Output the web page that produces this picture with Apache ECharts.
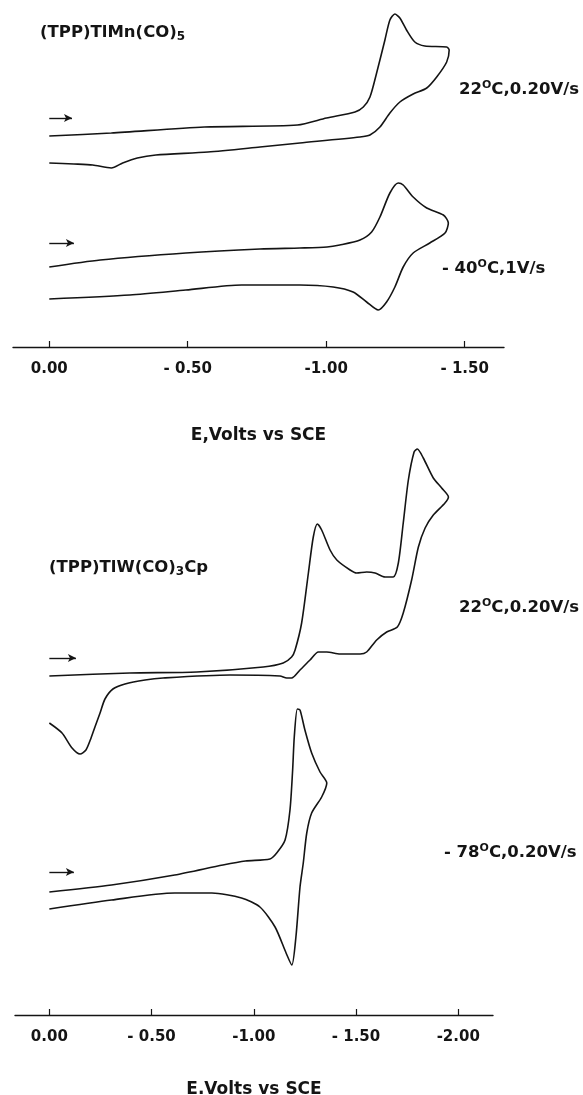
<!DOCTYPE html>
<html>
<head>
<meta charset="utf-8">
<script src="https://cdn.jsdelivr.net/npm/echarts@6/dist/echarts.min.js"></script>
<style>
  html, body { margin: 0; padding: 0; background: #fff; }
  #chart { width: 583px; height: 1095px; }
</style>
</head>
<body>
<div id="chart"></div>
<script>
// Cyclic voltammograms: [potential E (V vs SCE), current (arbitrary units, offset per trace)]

// (TPP)TlMn(CO)5, 22 °C, 0.20 V/s
const mn22 = [
  [0.000, 211], [-0.224, 214], [-0.560, 220], [-0.896, 222], [-1.001, 229], [-1.104, 235],
  [-1.134, 240], [-1.158, 250], [-1.182, 274], [-1.212, 307], [-1.230, 327], [-1.248, 333],
  [-1.266, 329], [-1.290, 317], [-1.320, 305], [-1.356, 301], [-1.435, 300], [-1.444, 297],
  [-1.435, 285], [-1.399, 270], [-1.363, 259], [-1.314, 253], [-1.266, 245], [-1.230, 234],
  [-1.194, 220], [-1.158, 212], [-1.122, 210], [-0.905, 204], [-0.761, 200], [-0.573, 195],
  [-0.385, 192], [-0.318, 189], [-0.265, 184], [-0.224, 179], [-0.157, 182], [-0.089, 183],
  [0.000, 184]
];

// (TPP)TlMn(CO)5, -40 °C, 1 V/s
const mnM40 = [
  [0.000, 80], [-0.184, 87], [-0.493, 94], [-0.761, 98], [-0.905, 99], [-1.003, 100],
  [-1.049, 102], [-1.122, 107], [-1.164, 115], [-1.194, 130], [-1.230, 154], [-1.260, 164],
  [-1.278, 162], [-1.314, 150], [-1.363, 139], [-1.423, 132], [-1.441, 124],
  [-1.429, 114], [-1.374, 104], [-1.314, 94], [-1.278, 80], [-1.248, 60], [-1.218, 45],
  [-1.188, 37], [-1.146, 45], [-1.097, 55], [-1.025, 60], [-0.905, 62], [-0.694, 62],
  [-0.493, 57], [-0.291, 52], [0.000, 48]
];

// (TPP)TlW(CO)3Cp, 22 °C, 0.20 V/s
const w22 = [
  [0.000, 339], [-0.394, 342], [-0.721, 343], [-1.046, 348], [-1.144, 352], [-1.185, 358],
  [-1.202, 365], [-1.234, 392], [-1.267, 442], [-1.291, 478], [-1.311, 491], [-1.332, 485],
  [-1.373, 465], [-1.406, 455], [-1.471, 445], [-1.503, 442], [-1.552, 443], [-1.593, 442],
  [-1.642, 438], [-1.682, 438], [-1.707, 452], [-1.731, 492], [-1.756, 535], [-1.784, 563],
  [-1.800, 566], [-1.829, 557], [-1.878, 537], [-1.919, 527], [-1.952, 518],
  [-1.935, 512], [-1.878, 500], [-1.838, 487], [-1.805, 468], [-1.772, 435], [-1.731, 402],
  [-1.702, 388], [-1.650, 383], [-1.601, 375], [-1.552, 363], [-1.520, 361], [-1.422, 361],
  [-1.357, 363], [-1.316, 363], [-1.275, 355], [-1.226, 345], [-1.185, 337], [-1.161, 337],
  [-1.128, 339], [-0.884, 340], [-0.556, 337], [-0.468, 335], [-0.370, 331], [-0.311, 326],
  [-0.272, 316], [-0.248, 302], [-0.223, 288], [-0.204, 277], [-0.179, 265], [-0.150, 261],
  [-0.111, 267], [-0.062, 282], [0.000, 292]
];

// (TPP)TlW(CO)3Cp, -78 °C, 0.20 V/s
const wM78 = [
  [0.000, 123], [-0.304, 130], [-0.613, 140], [-0.849, 150], [-0.959, 154], [-1.079, 156],
  [-1.112, 162], [-1.153, 175], [-1.177, 205], [-1.190, 245], [-1.198, 278], [-1.213, 306],
  [-1.226, 305], [-1.250, 285], [-1.283, 262], [-1.324, 243], [-1.357, 232],
  [-1.332, 218], [-1.283, 202], [-1.259, 182], [-1.242, 152], [-1.226, 128], [-1.206, 78],
  [-1.186, 50], [-1.158, 62], [-1.104, 88], [-1.030, 108], [-0.940, 117], [-0.795, 122],
  [-0.613, 122], [-0.304, 115], [0.000, 106]
];

// Scan-direction arrows: [start, end] points
const arrowMn22 = [[0.000, 229], [-0.082, 229]];
const arrowMnM40 = [[0.000, 104], [-0.089, 104]];
const arrowW22 = [[0.000, 357], [-0.130, 357]];
const arrowWM78 = [[0.000, 143], [-0.120, 143]];

// Axis ticks and their labels
const topTicks = [0, -0.5, -1.0, -1.5];
const topTickLabels = ['0.00', '- 0.50', '-1.00', '- 1.50'];
const bottomTicks = [0, -0.5, -1.0, -1.5, -2.0];
const bottomTickLabels = ['0.00', '- 0.50', '-1.00', '- 1.50', '-2.00'];

const INK = '#141414';
const FONT = '"DejaVu Sans", "Liberation Sans", Arial, sans-serif';

function labelFor(ticks, labels) {
  return function (v) {
    for (let k = 0; k < ticks.length; k++) {
      if (Math.abs(ticks[k] - v) < 1e-6) return labels[k];
    }
    return '';
  };
}

function xAxisFor(gridIndex, min, max, ticks, labels, nameText, gap) {
  return {
    type: 'value', gridIndex: gridIndex, inverse: true, min: min, max: max,
    splitLine: { show: false },
    axisLine: { show: true, onZero: false, lineStyle: { color: INK, width: 1.4 } },
    axisTick: { show: true, inside: true, length: 6, customValues: ticks, lineStyle: { color: INK, width: 1.2 } },
    axisLabel: {
      show: true, customValues: ticks, formatter: labelFor(ticks, labels), margin: 15,
      color: INK, fontFamily: FONT, fontWeight: 'bold', fontSize: 15
    },
    name: nameText, nameLocation: 'middle', nameGap: gap,
    nameTextStyle: { color: INK, fontFamily: FONT, fontWeight: 'bold', fontSize: 17 }
  };
}

function yAxisFor(gridIndex, max) {
  return { type: 'value', gridIndex: gridIndex, min: 0, max: max, show: false };
}

function trace(data, xi, arrow) {
  return {
    type: 'line', xAxisIndex: xi, yAxisIndex: xi, data: data,
    showSymbol: false, smooth: 0.25, clip: false,
    lineStyle: { color: INK, width: 1.6 },
    markLine: {
      silent: true, symbol: ['none', 'arrow'], symbolSize: [6, 8],
      label: { show: false },
      lineStyle: { color: INK, width: 1.4, type: 'solid' },
      data: [[{ coord: arrow[0] }, { coord: arrow[1] }]]
    }
  };
}

const textStyle = { fill: INK, fontFamily: FONT, fontWeight: 'bold', fontSize: 16.5 };
const rich = {
  sub: { fontFamily: FONT, fontWeight: 'bold', fontSize: 12, fill: INK, padding: [8, 0, 0, 0] },
  sup: { fontFamily: FONT, fontWeight: 'bold', fontSize: 11, fill: INK, padding: [0, 0, 9, 0] }
};

function label(x, y, text) {
  return {
    type: 'text', x: x, y: y,
    style: Object.assign({ text: text, align: 'left', verticalAlign: 'middle', rich: rich }, textStyle)
  };
}

const chart = echarts.init(document.getElementById('chart'), null, { renderer: 'canvas' });
chart.setOption({
  animation: false,
  backgroundColor: '#ffffff',
  grid: [
    { left: 13, right: 79, top: 0, bottom: 748, containLabel: false, outerBoundsMode: 'none' },
    { left: 15, right: 90, top: 415, bottom: 80, containLabel: false, outerBoundsMode: 'none' }
  ],
  xAxis: [
    xAxisFor(0, -1.642, 0.131, topTicks, topTickLabels, 'E,Volts vs SCE', 80),
    xAxisFor(1, -2.170, 0.168, bottomTicks, bottomTickLabels, 'E.Volts vs SCE', 66)
  ],
  yAxis: [yAxisFor(0, 347), yAxisFor(1, 600)],
  series: [
    trace(mn22, 0, arrowMn22),
    trace(mnM40, 0, arrowMnM40),
    trace(w22, 1, arrowW22),
    trace(wM78, 1, arrowWM78)
  ],
  graphic: [
    label(40, 33, '(TPP)TlMn(CO){sub|5}'),
    label(459, 90, '22{sup|O}C,0.20V/s'),
    label(442, 269, '- 40{sup|O}C,1V/s'),
    label(49, 568, '(TPP)TlW(CO){sub|3}Cp'),
    label(459, 608, '22{sup|O}C,0.20V/s'),
    label(444, 853, '- 78{sup|O}C,0.20V/s')
  ]
});
</script>
</body>
</html>
